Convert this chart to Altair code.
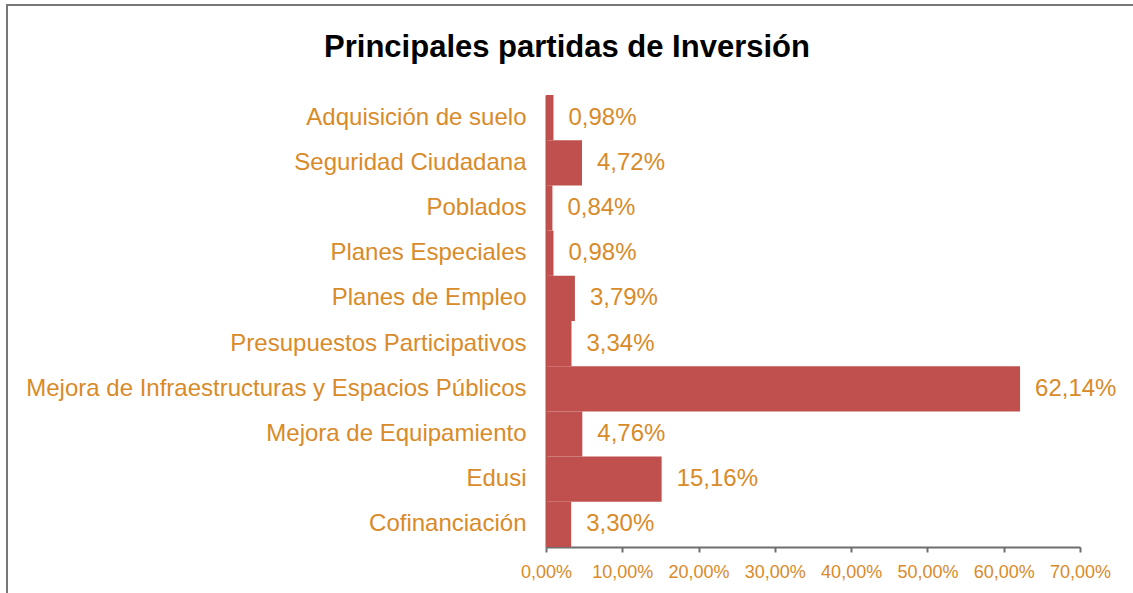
import altair as alt
import pandas as pd

categories = ["Adquisición de suelo", "Seguridad Ciudadana", "Poblados", "Planes Especiales",
              "Planes de Empleo", "Presupuestos Participativos",
              "Mejora de Infraestructuras y Espacios Públicos", "Mejora de Equipamiento",
              "Edusi", "Cofinanciación"]
values = [0.98, 4.72, 0.84, 0.98, 3.79, 3.34, 62.14, 4.76, 15.16, 3.30]
value_labels = ["0,98%", "4,72%", "0,84%", "0,98%", "3,79%", "3,34%", "62,14%", "4,76%", "15,16%", "3,30%"]
x_ticks = [0, 10, 20, 30, 40, 50, 60, 70]
title_text = "Principales partidas de Inversión"

df = pd.DataFrame({"cat": categories, "val": values, "lab": value_labels})

FONT = "Liberation Sans"
ORANGE = "#D98A29"
GRAY = "#6E6E6E"

y_enc = alt.Y("cat:N", sort=categories, scale=alt.Scale(paddingInner=0, paddingOuter=0),
              axis=alt.Axis(title=None, ticks=False, labelPadding=20, labelFontSize=24,
                            labelColor=ORANGE, labelFont=FONT, domainColor=GRAY,
                            domainWidth=2, labelLimit=800))
x_enc = alt.X("val:Q", scale=alt.Scale(domain=[0, 70], nice=False),
              axis=alt.Axis(title=None, values=x_ticks, grid=False, tickSize=5,
                            tickColor=GRAY, tickWidth=2, domainColor=GRAY, domainWidth=2,
                            labelFontSize=18, labelColor=ORANGE, labelFont=FONT,
                            labelPadding=11, labelOverlap=False, labelFlush=False,
                            labelExpr="replace(format(datum.value, '.2f'), '.', ',') + '%'"))

bars = alt.Chart(df).mark_bar(color="#C0504D").encode(x=x_enc, y=y_enc)
texts = alt.Chart(df).mark_text(align="left", baseline="middle", dx=15, fontSize=24,
                                font=FONT, color=ORANGE).encode(
    x="val:Q", y=alt.Y("cat:N", sort=categories), text="lab:N")

one = alt.Data(values=[{"a": 1}])
border = alt.Chart(one).mark_rect(
    fill=None, stroke="#777777", strokeWidth=2).encode(
    x=alt.value(-539), x2=alt.value(700), y=alt.value(-90), y2=alt.value(700))
title = alt.Chart(one).mark_text(
    align="center", baseline="alphabetic", fontSize=31, fontWeight="bold",
    font=FONT, color="black").encode(
    x=alt.value(21), y=alt.value(-38), text=alt.value(title_text))

chart = alt.layer(border, title, bars, texts).properties(
    width=534, height=452,
    autosize=alt.AutoSizeParams(type="none"),
    padding={"left": 546, "top": 95, "right": 53, "bottom": 46},
).configure_view(stroke=None)

chart.save("out.html", embed_options={"renderer": "svg", "actions": False})
